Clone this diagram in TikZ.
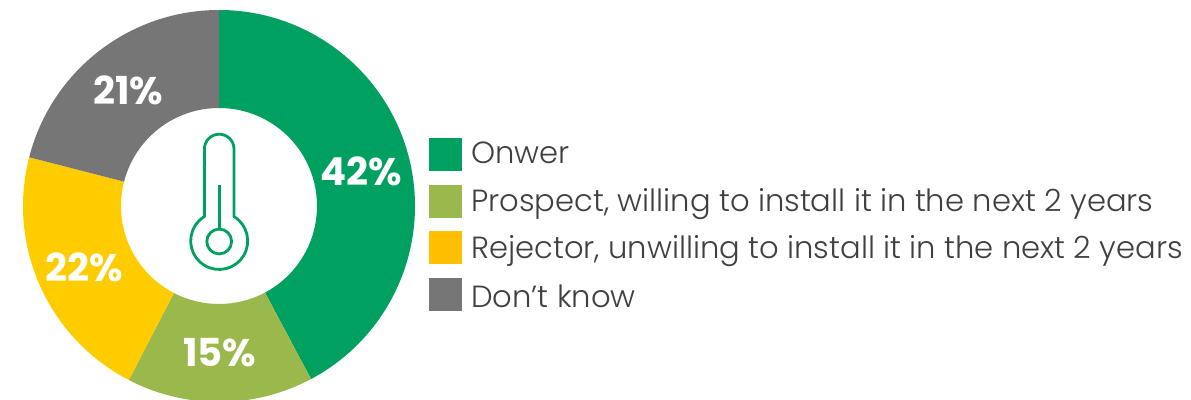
\documentclass[tikz,border=0pt]{standalone}
\usepackage{fontspec}
\setmainfont{Poppins}
\newfontfamily\lightfont{Poppins Light}
\definecolor{cgreen}{HTML}{00A160}
\definecolor{colive}{HTML}{9BB84D}
\definecolor{cyellow}{HTML}{FFCC00}
\definecolor{camber}{HTML}{FFBF00}
\definecolor{cgray}{HTML}{767676}
\definecolor{ctext}{HTML}{404040}
\tikzset{
  x=1pt,y=1pt,
  slicefill/.style={draw=none},
  pct/.style={text=white,font=\fontsize{38.5}{42}\selectfont\bfseries,inner sep=0pt,anchor=center},
  swatch/.style={minimum width=33pt,minimum height=33pt,inner sep=0pt,draw=none,anchor=west},
  legendtext/.style={text=ctext,font=\lightfont\fontsize{30.6}{36}\selectfont,inner sep=0pt,anchor=base west},
  thermo/.style={draw=cgreen,line width=2.8pt,fill=none,line join=round}
}
\newcommand{\ringslice}[3]{%
  \fill[#3,slicefill] (219,193) ++(#1:196) arc[start angle=#1,end angle=#2,radius=196]
    -- ++(#2:-98) arc[start angle=#2,end angle=#1,radius=98] -- cycle;}
\begin{document}
\begin{tikzpicture}
\useasboundingbox (0,0) rectangle (1191,399);
\ringslice{90}{-62}{cgreen}
\ringslice{-62}{-117.4}{colive}
\ringslice{-117.4}{-194.4}{cyellow}
\ringslice{-194.4}{-270}{cgray}
\node[pct] (p42) at (361,228) {42\%};
\node[pct] (p15) at (219.5,46) {15\%};
\node[pct] (p22) at (84,132) {22\%};
\node[pct] (p21) at (128.5,309) {21\%};
% thermometer
\draw[thermo] (204.4,250) arc[start angle=180,end angle=0,radius=14.8] -- (234,182.4)
  arc[start angle=58.7,end angle=-238.7,radius=28.5] -- cycle;
\draw[thermo] (219.2,157.5) circle[radius=12.4];
\coordinate (stemtop) at (219.2,214);
\coordinate (stembot) at (219.2,169.9);
\draw[thermo] (stemtop) -- (stembot);
\node[swatch,fill=cgreen] (s1) at (429,244.3) {};
\node[swatch,fill=colive] (s2) at (429,197.5) {};
\node[swatch,fill=camber] (s3) at (429,151) {};
\node[swatch,fill=cgray] (s4) at (429,104.5) {};
\node[legendtext] (t1) at (471,235) {Onwer};
\node[legendtext] (t2) at (471,187) {Prospect, willing to install it in the next 2 years};
\node[legendtext] (t3) at (471,140) {Rejector, unwilling to install it in the next 2 years};
\node[legendtext] (t4) at (471,91) {Don’t know};
\end{tikzpicture}
\end{document}
